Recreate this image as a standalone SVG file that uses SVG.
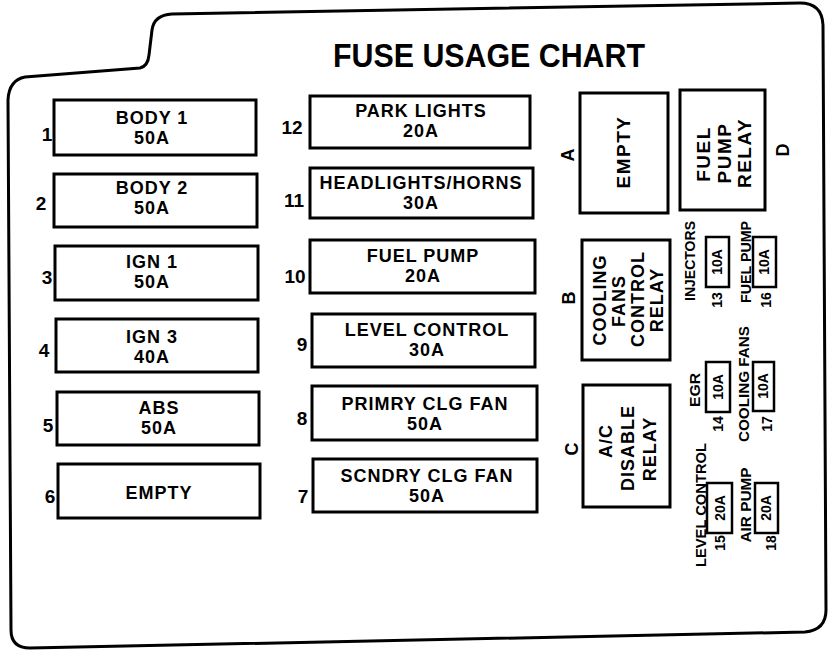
<svg xmlns="http://www.w3.org/2000/svg" width="832" height="650" viewBox="0 0 832 650">
<style>
.box{fill:none;stroke:#000;stroke-width:3}
.sb{fill:none;stroke:#000;stroke-width:2.5}
.outline{fill:none;stroke:#000;stroke-width:3;stroke-linejoin:round}
text{font-family:"Liberation Sans",Arial,sans-serif;font-weight:bold;fill:#000;dominant-baseline:central;text-anchor:middle}
.t{font-size:18px;letter-spacing:1px}
.n{font-size:19px}
.r{font-size:19px;letter-spacing:1.5px}
.l{font-size:18px}
.s{font-size:14px}
.title{font-size:33px}
</style>
<rect width="832" height="650" fill="#fff"/>
<path class="outline" d="M8,100 Q9,80 25,77 L140,68 Q148,66 149,55 L152,30 Q154,15 172,14 L800,3 Q822,3 823,25 L826,610 Q826,630 805,632 L30,648 Q11,648 11,630 Z"/>
<text class="title" x="489" y="55" textLength="312" lengthAdjust="spacingAndGlyphs">FUSE USAGE CHART</text>

<g id="fuse1"><rect class="box" x="54" y="100" width="202" height="55"/><text class="t" x="152" y="118">BODY 1</text><text class="t" x="152" y="138">50A</text><text class="n" x="47" y="134">1</text></g>
<g id="fuse2"><rect class="box" x="54" y="174" width="203" height="53"/><text class="t" x="152" y="188">BODY 2</text><text class="t" x="152" y="208">50A</text><text class="n" x="41" y="203">2</text></g>
<g id="fuse3"><rect class="box" x="55" y="246" width="203" height="54"/><text class="t" x="152" y="262">IGN 1</text><text class="t" x="152" y="282">50A</text><text class="n" x="47" y="277">3</text></g>
<g id="fuse4"><rect class="box" x="56" y="319" width="202" height="53"/><text class="t" x="152" y="337">IGN 3</text><text class="t" x="152" y="357">40A</text><text class="n" x="44" y="350">4</text></g>
<g id="fuse5"><rect class="box" x="57" y="392" width="202" height="53"/><text class="t" x="159" y="408">ABS</text><text class="t" x="159" y="428">50A</text><text class="n" x="48" y="425">5</text></g>
<g id="fuse6"><rect class="box" x="58" y="464" width="202" height="54"/><text class="t" x="159" y="493">EMPTY</text><text class="n" x="50" y="496">6</text></g>

<g id="fuse12"><rect class="box" x="310" y="96" width="220" height="52"/><text class="t" x="421" y="111">PARK LIGHTS</text><text class="t" x="421" y="131">20A</text><text class="n" x="292" y="127">12</text></g>
<g id="fuse11"><rect class="box" x="310" y="168" width="223" height="50"/><text class="t" x="421" y="183">HEADLIGHTS/HORNS</text><text class="t" x="421" y="203">30A</text><text class="n" x="294" y="200">11</text></g>
<g id="fuse10"><rect class="box" x="310" y="240" width="225" height="53"/><text class="t" x="423" y="256">FUEL PUMP</text><text class="t" x="423" y="276">20A</text><text class="n" x="295" y="276">10</text></g>
<g id="fuse9"><rect class="box" x="312" y="314" width="223" height="53"/><text class="t" x="427" y="330">LEVEL CONTROL</text><text class="t" x="427" y="350">30A</text><text class="n" x="302" y="344">9</text></g>
<g id="fuse8"><rect class="box" x="312" y="386" width="225" height="54"/><text class="t" x="425" y="404">PRIMRY CLG FAN</text><text class="t" x="425" y="424">50A</text><text class="n" x="302" y="418">8</text></g>
<g id="fuse7"><rect class="box" x="313" y="459" width="224" height="53"/><text class="t" x="427" y="476">SCNDRY CLG FAN</text><text class="t" x="427" y="496">50A</text><text class="n" x="303" y="496">7</text></g>

<g id="relayA"><rect class="box" x="580" y="93" width="88" height="120"/><text class="r" transform="translate(623,152) rotate(-90)">EMPTY</text><text class="l" transform="translate(568,155) rotate(-90)">A</text></g>
<g id="relayD"><rect class="box" x="680" y="90" width="85" height="120"/><text class="r" transform="translate(703,154) rotate(-90)">FUEL</text><text class="r" transform="translate(724,153) rotate(-90)">PUMP</text><text class="r" transform="translate(744,153) rotate(-90)">RELAY</text><text class="l" transform="translate(783,150) rotate(-90)">D</text></g>
<g id="relayB"><rect class="box" x="582" y="240" width="88" height="120"/><text class="t" transform="translate(600,300) rotate(-90)">COOLING</text><text class="t" transform="translate(619,301) rotate(-90)">FANS</text><text class="t" transform="translate(638,299) rotate(-90)">CONTROL</text><text class="t" transform="translate(657,300) rotate(-90)">RELAY</text><text class="l" transform="translate(569,298) rotate(-90)">B</text></g>
<g id="relayC"><rect class="box" x="583" y="385" width="87" height="122"/><text class="t" transform="translate(606,441) rotate(-90)">A/C</text><text class="t" transform="translate(628,448) rotate(-90)">DISABLE</text><text class="t" transform="translate(650,449) rotate(-90)">RELAY</text><text class="l" transform="translate(572,449) rotate(-90)">C</text></g>

<g id="fuse13"><rect class="sb" x="706" y="237" width="23" height="50"/><text class="s" transform="translate(717,262) rotate(-90)">10A</text><text class="s" transform="translate(690,261) rotate(-90)" textLength="80" lengthAdjust="spacingAndGlyphs">INJECTORS</text><text class="s" transform="translate(717,300) rotate(-90)">13</text></g>
<g id="fuse16"><rect class="sb" x="753" y="237" width="23" height="50"/><text class="s" transform="translate(764,262) rotate(-90)">10A</text><text class="s" transform="translate(746,262) rotate(-90)" textLength="82" lengthAdjust="spacingAndGlyphs">FUEL PUMP</text><text class="s" transform="translate(766,300) rotate(-90)">16</text></g>
<g id="fuse14"><rect class="sb" x="706" y="362" width="24" height="50"/><text class="s" transform="translate(718,387) rotate(-90)">10A</text><text class="s" transform="translate(695,390) rotate(-90)" textLength="34" lengthAdjust="spacingAndGlyphs">EGR</text><text class="s" transform="translate(718,424) rotate(-90)">14</text></g>
<g id="fuse17"><rect class="sb" x="753" y="362" width="21" height="49"/><text class="s" transform="translate(763,386) rotate(-90)">10A</text><text class="s" transform="translate(744,384) rotate(-90)" textLength="116" lengthAdjust="spacingAndGlyphs">COOLING FANS</text><text class="s" transform="translate(767,424) rotate(-90)">17</text></g>
<g id="fuse15"><rect class="sb" x="707" y="483" width="25" height="50"/><text class="s" transform="translate(720,508) rotate(-90)">20A</text><text class="s" transform="translate(701,505) rotate(-90)" textLength="124" lengthAdjust="spacingAndGlyphs">LEVEL CONTROL</text><text class="s" transform="translate(720,543) rotate(-90)">15</text></g>
<g id="fuse18"><rect class="sb" x="755" y="483" width="23" height="50"/><text class="s" transform="translate(766,508) rotate(-90)">20A</text><text class="s" transform="translate(746,505) rotate(-90)" textLength="75" lengthAdjust="spacingAndGlyphs">AIR PUMP</text><text class="s" transform="translate(771,543) rotate(-90)">18</text></g>
<g id="connectors"/>
</svg>
